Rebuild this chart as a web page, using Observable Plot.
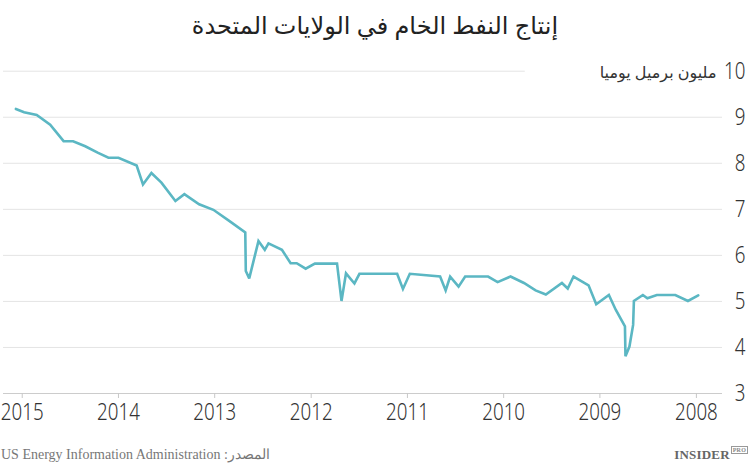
<!DOCTYPE html>
<html lang="ar">
<head>
<meta charset="utf-8">
<script src="https://cdn.jsdelivr.net/npm/d3@7"></script>
<script src="https://cdn.jsdelivr.net/npm/@observablehq/plot@0.6"></script>
<style>
  html, body { margin: 0; padding: 0; background: #fff; width: 750px; height: 464px; overflow: hidden; }
  #title { height: 50px; line-height: 50px; font-size: 24px; text-align: center; color: #222;
           font-family: "Noto Sans", "DejaVu Sans", sans-serif; }
  #chart { height: 396px; }
  #chart svg text.num { font-weight: 300; }
  #footer { position: relative; height: 18px; }
  #source { position: absolute; left: 1px; top: 0; font-family: "Liberation Serif", serif; font-size: 14px; color: #777; }
  #logo { position: absolute; right: 2px; top: 1px; font-family: "Liberation Serif", serif; font-weight: bold; font-size: 13px; color: #666; letter-spacing: 0.2px; }
  #logo span { font-size: 6px; border: 1px solid #999; padding: 0 1px; vertical-align: top; margin-left: 1px; color: #888; }
</style>
</head>
<body>
<div id="title" dir="rtl"></div>
<div id="chart"></div>
<div id="footer"><div id="source" dir="rtl"></div><div id="logo">INSIDER<span>PRO</span></div></div>
<script>
const titleText = "إنتاج النفط الخام في الولايات المتحدة";
const unitLabel = "مليون برميل يوميا";
const sourceText = "المصدر: US Energy Information Administration";

const dates = [
  "2015-01-25","2014-12-25","2014-11-07","2014-09-17","2014-07-28","2014-06-22","2014-05-07","2014-03-21",
  "2014-02-08","2014-01-01","2013-10-24","2013-09-30","2013-08-29","2013-07-22","2013-05-30","2013-04-26",
  "2013-03-01","2013-01-06","2012-11-07","2012-09-07","2012-09-05","2012-08-23","2012-07-19","2012-06-25",
  "2012-06-11","2012-04-21","2012-03-19","2012-02-25","2012-01-22","2011-12-18","2011-09-25","2011-09-08",
  "2011-08-22","2011-07-21","2011-07-02","2011-02-09","2011-01-18","2010-12-23","2010-08-30","2010-08-09",
  "2010-07-23","2010-06-21","2010-05-27","2010-03-01","2010-01-24","2009-12-06","2009-10-16","2009-09-02",
  "2009-07-25","2009-05-25","2009-05-03","2009-04-11","2009-02-13","2009-01-15","2008-11-28","2008-11-02",
  "2008-09-28","2008-09-26","2008-09-11","2008-08-28","2008-08-25","2008-07-22","2008-07-05","2008-05-30",
  "2008-03-21","2008-02-02","2007-12-25"
];
const values = [
  9.18, 9.11, 9.05, 8.84, 8.48, 8.48, 8.37, 8.23,
  8.12, 8.12, 7.95, 7.54, 7.79, 7.58, 7.18, 7.33,
  7.11, 6.99, 6.75, 6.50, 5.66, 5.50, 6.31, 6.12,
  6.26, 6.12, 5.83, 5.83, 5.71, 5.82, 5.82, 5.01,
  5.61, 5.39, 5.60, 5.60, 5.27, 5.60, 5.54, 5.24,
  5.54, 5.32, 5.54, 5.54, 5.42, 5.54, 5.40, 5.24,
  5.15, 5.40, 5.28, 5.54, 5.35, 4.94, 5.14, 4.82,
  4.46, 3.81, 4.02, 4.49, 5.01, 5.14, 5.07, 5.14,
  5.14, 5.01, 5.13
];
const yearTicks = ["2015","2014","2013","2012","2011","2010","2009","2008"];
const yTicks = [3, 4, 5, 6, 7, 8, 9, 10];
const xDomain = ["2015-03-13", "2007-09-24"];
const topGridEnd = "2009-10-11";

document.getElementById("title").textContent = titleText;
document.getElementById("source").textContent = sourceText;

const data = dates.map((d, i) => ({date: new Date(d), value: values[i]}));
const numFont = '"Noto Sans", "DejaVu Sans Condensed", sans-serif';

const chart = Plot.plot({
  width: 750,
  height: 396,
  marginLeft: 3,
  marginRight: 28,
  marginTop: 20.7,
  marginBottom: 53,
  style: {background: "#fff", overflow: "visible", fontFamily: '"Noto Sans", "DejaVu Sans", sans-serif'},
  x: {type: "utc", domain: xDomain.map(d => new Date(d)), axis: null},
  y: {domain: [3, 10], axis: null},
  marks: [
    Plot.ruleY(yTicks.filter(v => v > 3 && v < 10), {stroke: "#e4e4e4", strokeWidth: 1}),
    Plot.ruleY([10], {x1: () => new Date(xDomain[0]), x2: () => new Date(topGridEnd), stroke: "#e4e4e4", strokeWidth: 1}),
    Plot.ruleY([3], {stroke: "#cccccc", strokeWidth: 1}),
    Plot.axisX({
      ticks: yearTicks.map(y => new Date(y + "-01-01")),
      tickFormat: d3.utcFormat("%Y"),
      tickSize: 5,
      tickPadding: 11,
      stroke: "#c8c8c8",
      label: null,
      text: null
    }),
    Plot.text(yearTicks, {x: y => new Date(y + "-01-01"), text: y => y, frameAnchor: "bottom", dy: 26,
      fontSize: 24, fill: "#333", fontFamily: numFont, className: "num"}),
    Plot.text(yTicks, {y: d => d, text: d => String(d), frameAnchor: "right", dx: 23, textAnchor: "end",
      fontSize: 24, fill: "#333", fontFamily: numFont, className: "num"}),
    Plot.text([unitLabel], {y: () => 10, text: d => d, frameAnchor: "right", dx: -6, dy: 2, textAnchor: "end",
      fontSize: 16, fill: "#333"}),
    Plot.line(data, {x: "date", y: "value", stroke: "#5bb7c3", strokeWidth: 2.6, strokeLinejoin: "miter", strokeMiterlimit: 3})
  ]
});
document.getElementById("chart").appendChild(chart);
// condense the numeric labels horizontally, as in the reference's narrow face
chart.querySelectorAll("g.num text, text.num").forEach(t => {
  t.classList.add("num");
  const w = t.getComputedTextLength();
  t.setAttribute("textLength", (w * 0.78).toFixed(1));
  t.setAttribute("lengthAdjust", "spacingAndGlyphs");
});
</script>
</body>
</html>
